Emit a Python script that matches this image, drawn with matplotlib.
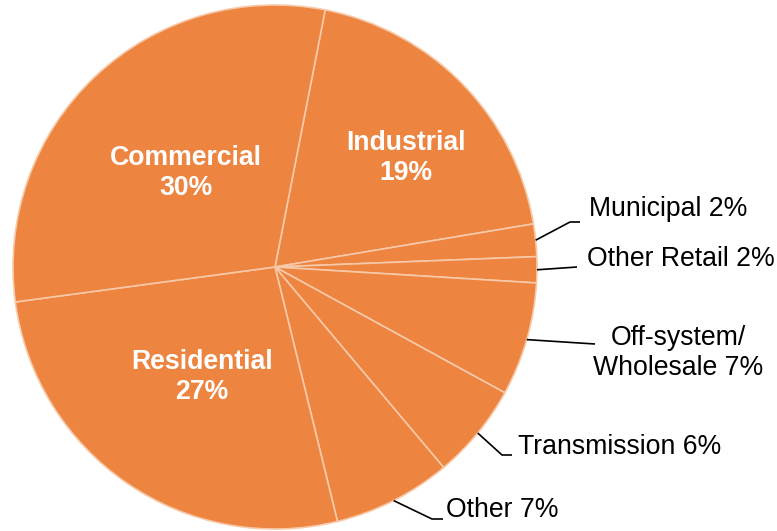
import matplotlib
matplotlib.use("Agg")
import matplotlib.pyplot as plt
import numpy as np

# Data (clockwise from Industrial)
categories = ["Industrial", "Municipal", "Other Retail", "Off-system/\nWholesale",
              "Transmission", "Other", "Residential", "Commercial"]
values = [19.3, 2.0, 1.6, 7.0, 5.9, 7.3, 26.7, 30.2]
pct_labels = [f"{round(v)}%" for v in values]

W, H = 777, 531
CX, CY, R = 275, 267, 262

def px(x, y):
    return ((x - CX) / R, (CY - y) / R)

fig = plt.figure(figsize=(W / 100, H / 100), dpi=100)
ax = fig.add_axes([0, 0, 1, 1])
plt.rcParams['font.family'] = ['Liberation Sans', 'DejaVu Sans']

fill = "#ED8440"
edge = "#F7C9A8"
start = 90 - 11.05
wedges, _ = ax.pie(values, startangle=start, counterclock=False,
                   colors=[fill] * len(values),
                   wedgeprops=dict(edgecolor=edge, linewidth=1.2),
                   radius=1.0, center=(0, 0))
ax.set_xlim(-CX / R, (W - CX) / R)
ax.set_ylim(-(H - CY) / R, CY / R)
ax.set_aspect("auto")
ax.axis("off")

FS = 19.2
LS = 1.22

# Inside labels (bold white)
inside = {"Industrial": (406, 158), "Commercial": (186, 173), "Residential": (202, 377)}
# Outside labels: text anchor (x, y), elbow points, ha
outside = {
    "Municipal": ((589, 209), [(570, 222), (580, 222)], "left"),
    "Other Retail": ((587, 259), [(577, 267)], "left"),
    "Off-system/\nWholesale": ((678, 353), [(595, 344)], "center"),
    "Transmission": ((518, 447), [(502, 455), (512, 455)], "left"),
    "Other": ((446, 510), [(432, 519), (443, 519)], "left"),
}

for w, cat, lab in zip(wedges, categories, pct_labels):
    mid = np.deg2rad((w.theta1 + w.theta2) / 2)
    if cat in inside:
        x, y = px(*inside[cat])
        ax.text(x, y, f"{cat}\n{lab}", ha="center", va="center", color="white",
                fontsize=FS, fontweight="bold", linespacing=LS)
    else:
        (tx, ty), elbows, ha = outside[cat]
        sx, sy = np.cos(mid), np.sin(mid)
        pts = [(sx, sy)] + [px(*e) for e in elbows]
        ax.plot([p[0] for p in pts], [p[1] for p in pts], color="black", lw=1.2,
                solid_capstyle="butt")
        x, y = px(tx, ty)
        ax.text(x, y, f"{cat} {lab}", ha=ha, va="center", color="black",
                fontsize=FS, linespacing=LS, multialignment="center")

fig.savefig("out.png", dpi=100)
